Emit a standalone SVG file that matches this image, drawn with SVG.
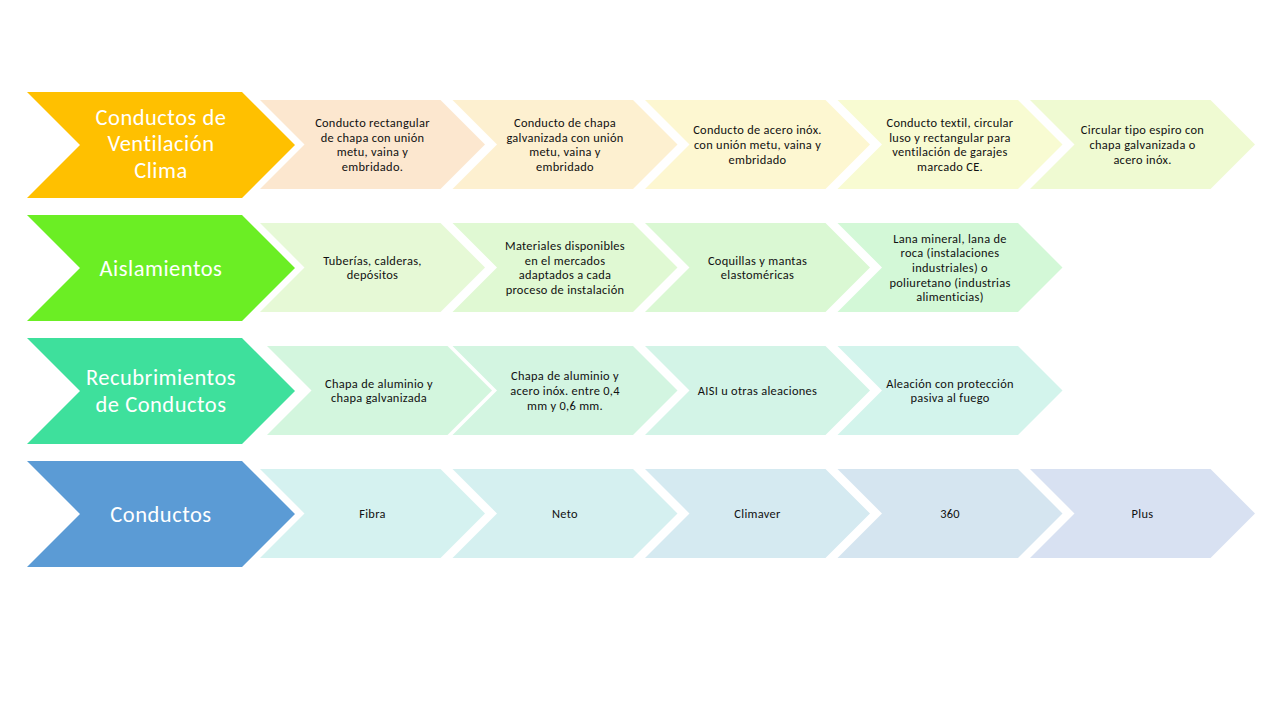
<svg xmlns="http://www.w3.org/2000/svg" xmlns:xlink="http://www.w3.org/1999/xlink" width="1280" height="720" viewBox="0 0 1280 720">
<defs>
<style>
.main{font-family:Carlito,Lato,"Liberation Sans",sans-serif;font-size:22.5px;letter-spacing:0.5px;fill:#ffffff;text-anchor:middle}
.sub{font-family:Carlito,Lato,"Liberation Sans",sans-serif;font-size:12.4px;letter-spacing:0.3px;fill:#111111;text-anchor:middle}
</style>
<path id="mainChev" d="M0,0 H215 L268,53 L215,106 H0 L53,53 Z"/>
<path id="subChev" d="M0,0 H180.5 L225,44.5 L180.5,89 H0 L44.5,44.5 Z"/>
</defs>
<rect width="1280" height="720" fill="#ffffff"/>

<g id="connectors"></g>

<!-- Row 1 -->
<g id="row1-main"><use xlink:href="#mainChev" x="27" y="92" fill="#FFC000"/>
<text class="main"><tspan x="161" y="124.5">Conductos de</tspan><tspan x="161" y="151">Ventilación</tspan><tspan x="161" y="177.5">Clima</tspan></text></g>
<g id="row1-1"><use xlink:href="#subChev" x="260" y="100" fill="#FCE7CF"/>
<text class="sub"><tspan x="372.5" y="127.1">Conducto rectangular</tspan><tspan x="372.5" y="141.7">de chapa con unión</tspan><tspan x="372.5" y="156.3">metu, vaina y</tspan><tspan x="372.5" y="170.9">embridado.</tspan></text></g>
<g id="row1-2"><use xlink:href="#subChev" x="452.5" y="100" fill="#FDF0D0"/>
<text class="sub"><tspan x="565" y="127.1">Conducto de chapa</tspan><tspan x="565" y="141.7">galvanizada con unión</tspan><tspan x="565" y="156.3">metu, vaina y</tspan><tspan x="565" y="170.9">embridado</tspan></text></g>
<g id="row1-3"><use xlink:href="#subChev" x="645" y="100" fill="#FDF7D1"/>
<text class="sub"><tspan x="757.5" y="134.4">Conducto de acero inóx.</tspan><tspan x="757.5" y="149">con unión metu, vaina y</tspan><tspan x="757.5" y="163.6">embridado</tspan></text></g>
<g id="row1-4"><use xlink:href="#subChev" x="837.5" y="100" fill="#F8FBD2"/>
<text class="sub"><tspan x="950" y="127.1">Conducto textil, circular</tspan><tspan x="950" y="141.7">luso y rectangular para</tspan><tspan x="950" y="156.3">ventilación de garajes</tspan><tspan x="950" y="170.9">marcado CE.</tspan></text></g>
<g id="row1-5"><use xlink:href="#subChev" x="1030" y="100" fill="#EFFAD2"/>
<text class="sub"><tspan x="1142.5" y="134.4">Circular tipo espiro con</tspan><tspan x="1142.5" y="149">chapa galvanizada o</tspan><tspan x="1142.5" y="163.6">acero inóx.</tspan></text></g>

<!-- Row 2 -->
<g id="row2-main"><use xlink:href="#mainChev" x="27" y="215" fill="#6BEE24"/>
<text class="main"><tspan x="161" y="275.5">Aislamientos</tspan></text></g>
<g id="row2-1"><use xlink:href="#subChev" x="260" y="223" fill="#E6F9D6"/>
<text class="sub"><tspan x="372.5" y="264.7">Tuberías, calderas,</tspan><tspan x="372.5" y="279.3">depósitos</tspan></text></g>
<g id="row2-2"><use xlink:href="#subChev" x="452.5" y="223" fill="#E0F9D3"/>
<text class="sub"><tspan x="565" y="250.1">Materiales disponibles</tspan><tspan x="565" y="264.7">en el mercados</tspan><tspan x="565" y="279.3">adaptados a cada</tspan><tspan x="565" y="293.9">proceso de instalación</tspan></text></g>
<g id="row2-3"><use xlink:href="#subChev" x="645" y="223" fill="#DAF8D3"/>
<text class="sub"><tspan x="757.5" y="264.7">Coquillas y mantas</tspan><tspan x="757.5" y="279.3">elastoméricas</tspan></text></g>
<g id="row2-4"><use xlink:href="#subChev" x="837.5" y="223" fill="#D3F8D7"/>
<text class="sub"><tspan x="950" y="242.8">Lana mineral, lana de</tspan><tspan x="950" y="257.4">roca (instalaciones</tspan><tspan x="950" y="272">industriales) o</tspan><tspan x="950" y="286.6">poliuretano (industrias</tspan><tspan x="950" y="301.2">alimenticias)</tspan></text></g>

<!-- Row 3 -->
<g id="row3-main"><use xlink:href="#mainChev" x="27" y="338" fill="#3EE09C"/>
<text class="main"><tspan x="161" y="385.2">Recubrimientos</tspan><tspan x="161" y="411.7">de Conductos</tspan></text></g>
<g id="row3-1"><use xlink:href="#subChev" x="267" y="346" fill="#D3F6DE"/>
<text class="sub"><tspan x="379" y="387.7">Chapa de aluminio y</tspan><tspan x="379" y="402.3">chapa galvanizada</tspan></text></g>
<g id="row3-2"><use xlink:href="#subChev" x="452.5" y="346" fill="#D3F5E1"/>
<text class="sub"><tspan x="565" y="380.4">Chapa de aluminio y</tspan><tspan x="565" y="395">acero inóx. entre 0,4</tspan><tspan x="565" y="409.6">mm y 0,6 mm.</tspan></text></g>
<g id="row3-3"><use xlink:href="#subChev" x="645" y="346" fill="#D3F4E7"/>
<text class="sub"><tspan x="757.5" y="395">AISI u otras aleaciones</tspan></text></g>
<g id="row3-4"><use xlink:href="#subChev" x="837.5" y="346" fill="#D3F4EC"/>
<text class="sub"><tspan x="950" y="387.7">Aleación con protección</tspan><tspan x="950" y="402.3">pasiva al fuego</tspan></text></g>

<!-- Row 4 -->
<g id="row4-main"><use xlink:href="#mainChev" x="27" y="461" fill="#5B9BD5"/>
<text class="main"><tspan x="161" y="521.5">Conductos</tspan></text></g>
<g id="row4-1"><use xlink:href="#subChev" x="260" y="469" fill="#D5F2F0"/>
<text class="sub"><tspan x="372.5" y="518">Fibra</tspan></text></g>
<g id="row4-2"><use xlink:href="#subChev" x="452.5" y="469" fill="#D5F0F0"/>
<text class="sub"><tspan x="565" y="518">Neto</tspan></text></g>
<g id="row4-3"><use xlink:href="#subChev" x="645" y="469" fill="#D5EAF1"/>
<text class="sub"><tspan x="757.5" y="518">Climaver</tspan></text></g>
<g id="row4-4"><use xlink:href="#subChev" x="837.5" y="469" fill="#D5E5F0"/>
<text class="sub"><tspan x="950" y="518">360</tspan></text></g>
<g id="row4-5"><use xlink:href="#subChev" x="1030" y="469" fill="#D8E1F2"/>
<text class="sub"><tspan x="1142.5" y="518">Plus</tspan></text></g>
</svg>
